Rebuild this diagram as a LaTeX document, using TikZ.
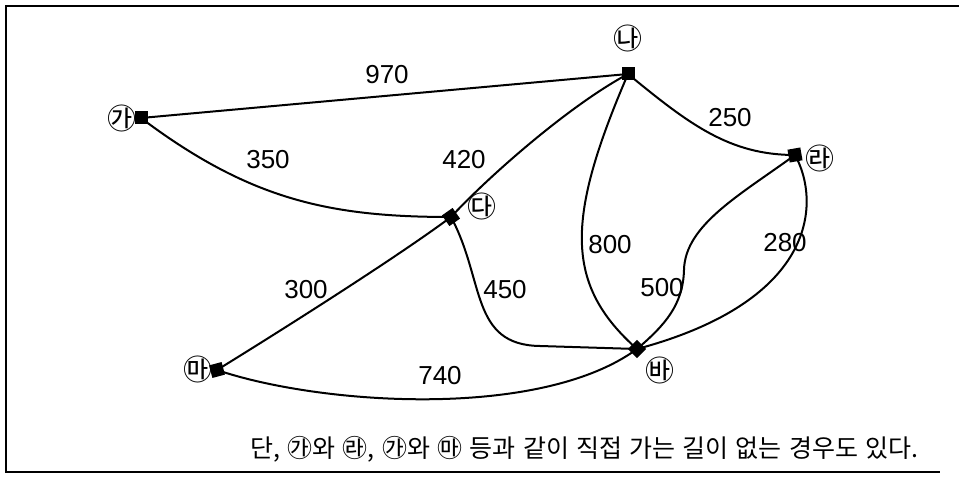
\documentclass[tikz,border=0pt]{standalone}
\usepackage{fontspec}
\usepackage{xcolor}
\usepackage{tikz}
\setmainfont{Liberation Sans}
\newfontfamily\cjk{Noto Sans CJK KR}

\begin{document}
\begin{tikzpicture}[x=1pt,y=-1pt,
  stop/.style={fill=black,minimum size=13pt,inner sep=0pt},
  circ/.style={font=\cjk\fontsize{29}{29}\selectfont,inner sep=0pt},
  dist/.style={font=\fontsize{26}{26}\selectfont,inner sep=0pt},
  road/.style={line width=2pt}]
  \useasboundingbox (0,0) rectangle (959,481) ;
  %
  \draw[line width=2pt] (959,6) -- (6,6) -- (6,472) -- (940,472) ;
  %
  \node[stop] (ga) at (141,118) {} ;
  \node[stop] (na) at (628,74) {} ;
  \node[stop,rotate=35] (da) at (451,217) {} ;
  \node[stop,rotate=10] (ra) at (795,155) {} ;
  \node[stop,rotate=15] (ma) at (217,370) {} ;
  \node[stop,rotate=45] (ba) at (637,349) {} ;
  %
  \node[circ] (ganame) at (122,118) {㉮} ;
  \node[circ] (naname) at (628,38) {㉯} ;
  \node[circ] (daname) at (482,206) {㉰} ;
  \node[circ] (raname) at (820,158) {㉱} ;
  \node[circ] (maname) at (198,369) {㉲} ;
  \node[circ] (baname) at (660,370) {㉳} ;
  %
  \draw[road] (ga.center) -- (na.center) ;
  \draw[road] (ga.center) .. controls (250,200) and (330,217) .. (da.center) ;
  \draw[road] (na.center) .. controls (570,105) and (490,175) .. (da.center) ;
  \draw[road] (na.center) .. controls (690,125) and (730,155) .. (ra.center) ;
  \draw[road] (na.center) .. controls (565,220) and (565,285) .. (ba.center) ;
  \draw[road] (ra.center) .. controls (740,195) and (685,225) .. (684,270)
    .. controls (683,305) and (665,325) .. (ba.center) ;
  \draw[road] (ra.center) .. controls (820,200) and (820,300) .. (ba.center) ;
  \draw[road] (da.center) .. controls (485,280) and (470,345) .. (540,346) -- (ba.center) ;
  \draw[road] (da.center) .. controls (400,255) and (290,325) .. (ma.center) ;
  \draw[road] (ma.center) .. controls (320,405) and (540,420) .. (ba.center) ;
  %
  \node[dist] (d970) at (387,75) {970} ;
  \node[dist] (d350) at (268,160) {350} ;
  \node[dist] (d420) at (464,160) {420} ;
  \node[dist] (d250) at (730,118) {250} ;
  \node[dist] (d800) at (610,245) {800} ;
  \node[dist] (d280) at (785,243) {280} ;
  \node[dist] (d300) at (306,290) {300} ;
  \node[dist] (d450) at (505,290) {450} ;
  \node[dist] (d500) at (662,288) {500} ;
  \node[dist] (d740) at (440,376) {740} ;
  %
  \node[font=\cjk\fontsize{25}{25}\selectfont,anchor=west,inner sep=0pt]
    (note) at (250,449) {\makebox[668pt][s]{단, ㉮와 ㉱, ㉮와 ㉲ 등과 같이 직접 가는 길이 없는 경우도 있다.}} ;
\end{tikzpicture}
\end{document}
